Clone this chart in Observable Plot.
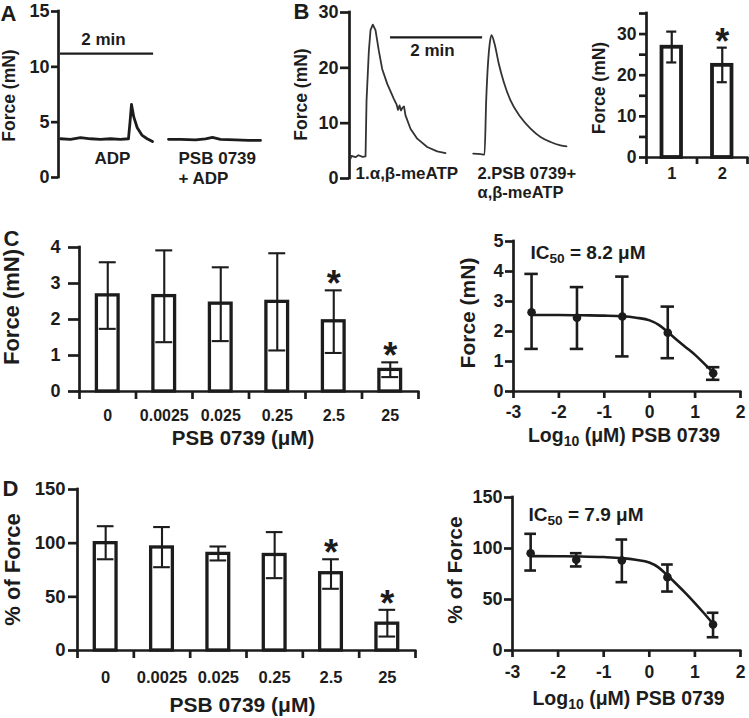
<!DOCTYPE html>
<html>
<head>
<meta charset="utf-8">
<script src="https://cdn.jsdelivr.net/npm/d3@7"></script>
<script src="https://cdn.jsdelivr.net/npm/@observablehq/plot@0.6"></script>
<style>
  html, body { margin: 0; padding: 0; background: #fff; }
  #fig { position: relative; width: 749px; height: 718px; overflow: hidden; background: #fff; }
  #fig > svg { position: absolute; left: 0; top: 0; }
</style>
</head>
<body>
<div id="fig"></div>
<script>
// ================= DATA =================
// A – force trace: ADP alone, then PSB 0739 + ADP (time s, force mN)
const aTime1  = [2.6, 15.5, 28.4, 41.3, 54.1, 67.0, 79.9, 90.2, 92.2, 94.1, 97.1, 101.5, 107.9, 114.3, 121.2];
const aForce1 = [3.50, 3.45, 3.60, 3.50, 3.45, 3.50, 3.45, 3.50, 5.00, 6.60, 5.45, 4.50, 3.80, 3.50, 3.25];
const aTime2  = [141.8, 157.3, 176.6, 189.5, 198.5, 208.8, 228.2, 244.9, 260.4];
const aForce2 = [3.45, 3.45, 3.40, 3.50, 3.62, 3.45, 3.40, 3.35, 3.35];
const aTicks  = [0, 5, 10, 15];

// B – α,β-meATP responses before / after PSB 0739 (time s, force mN)
const bTime1  = [1.3, 2.6, 7.8, 11.7, 17.0, 20.9, 22.2, 25.2, 27.4, 30.4, 33.9, 38.2, 42.6, 49.2, 57.8, 61.3, 63.2, 65.2, 67.1, 69.1, 71.1, 73.0, 79.5, 88.3, 101.3, 114.3, 125.2];
const bForce1 = [3.6, 4.1, 3.85, 4.2, 3.9, 4.0, 14.0, 23.0, 26.8, 27.8, 26.8, 23.1, 19.8, 17.1, 14.4, 13.4, 12.4, 13.2, 12.3, 12.8, 13.0, 11.4, 9.0, 7.2, 5.7, 4.9, 4.6];
const bTime2  = [161.3, 170.8, 176.0, 178.2, 180.8, 182.9, 185.1, 189.0, 194.7, 201.2, 209.9, 222.9, 236.0, 249.0, 262.1, 275.1, 282.9];
const bForce2 = [4.5, 4.4, 4.3, 14.1, 21.3, 24.5, 25.9, 24.4, 20.7, 17.4, 14.1, 11.1, 9.0, 7.5, 6.6, 6.0, 5.8];
const bTicks  = [0, 10, 20, 30];
const scaleBarSec = 120;

// B (right) – peak force bars
const bCats = ["1", "2"];
const bMean = [26.8, 22.4];
const bHi   = [30.6, 26.7];
const bLo   = [23.1, 18.3];
const bSig  = [false, true];
const bBarTicks = [0, 5, 10, 15, 20, 25, 30, 35];

// C / D – PSB 0739 concentration series
const concLabels = ["0", "0.0025", "0.025", "0.25", "2.5", "25"];
const concSig    = [false, false, false, false, true, true];
const cMean = [2.67, 2.65, 2.44, 2.49, 1.95, 0.60];
const cHi   = [3.59, 3.92, 3.45, 3.84, 2.81, 0.81];
const cLo   = [1.74, 1.37, 1.40, 1.14, 1.07, 0.40];
const cTicks = [0, 1, 2, 3, 4];
const dMean = [100, 96, 90, 89, 72, 25];
const dHi   = [115.8, 115.0, 96.9, 110.3, 85.0, 37.9];
const dLo   = [85.0, 77.6, 83.9, 67.4, 57.5, 13.0];
const dTicks = [0, 50, 100, 150];

// concentration–response (µM)
const curveConc  = [0.0025, 0.025, 0.25, 2.5, 25];
const cCurveMean = [2.64, 2.46, 2.50, 1.96, 0.61];
const cCurveHi   = [3.92, 3.48, 3.83, 2.83, 0.81];
const cCurveLo   = [1.42, 1.42, 1.17, 1.11, 0.39];
const dCurveMean = [95.4, 88.9, 88.2, 71.9, 25.5];
const dCurveHi   = [114.4, 95.4, 108.8, 84.3, 37.0];
const dCurveLo   = [78.4, 82.4, 67.0, 57.8, 13.0];
const logTicks    = [-3, -2, -1, 0, 1, 2];
const cCurveTicks = [0, 1, 2, 3, 4, 5];
// fitted curves
const fitLog    = [-2.6, -2.0, -1.5, -1.0, -0.6, -0.3, 0.0, 0.2, 0.4, 0.6, 0.8, 1.0, 1.2, 1.4];
const cFitForce = [2.55, 2.55, 2.54, 2.53, 2.51, 2.46, 2.37, 2.22, 1.98, 1.72, 1.47, 1.22, 0.93, 0.64];
const dFitPct   = [92.5, 92.4, 92.2, 91.6, 90.6, 89.0, 86.2, 81.5, 73.5, 65.0, 56.0, 46.5, 36.5, 26.0];

// label texts
const psbTitle = "PSB 0739 (μM)";
const logTitle = ["Log", "10", " (μM) PSB 0739"];
const ic50C = ["IC", "50", " = 8.2 μM"];
const ic50D = ["IC", "50", " = 7.9 μM"];

// ================= STYLE / LAYOUT =================
const FONT = "'Liberation Sans', Arial, Helvetica, sans-serif";
const INK = "#1c1c1c";
const W = 749, H = 718;
const AX = 2.7;
const STYLE = {background: "transparent", fontFamily: FONT, fontWeight: "bold", color: INK, overflow: "visible"};
const fig = document.getElementById("fig");

function dims(f) {
  return {width: W, height: H, marginLeft: f.l, marginRight: W - f.r, marginTop: f.t, marginBottom: H - f.b, style: STYLE};
}
function txt(f, s, X, Y, o = {}) {
  return Plot.text([s], {text: d => d, frameAnchor: "top-left", dx: X - f.l, dy: Y - f.t,
    textAnchor: "start", lineAnchor: "bottom", fill: INK, fontSize: 16.5, fontWeight: "bold", ...o});
}
function vtitle(f, s, X, Y, size) {
  return txt(f, s, X, Y, {rotate: -90, textAnchor: "middle", lineAnchor: "middle", fontSize: size, ariaLabel: "ytitle"});
}
const yLine = (x, y1, y2) => Plot.ruleX([x], {y1, y2, stroke: INK, strokeWidth: AX, strokeLinecap: "square"});
const xLine = (y, x1, x2) => Plot.ruleY([y], {x1, x2, stroke: INK, strokeWidth: AX, strokeLinecap: "square"});
const plain = d => String(d);

function mount(svg, titleLen, subs = []) {
  const s = d3.select(svg);
  if (titleLen) s.selectAll('[aria-label="ytitle"] text').attr("textLength", titleLen).attr("lengthAdjust", "spacingAndGlyphs");
  for (const parts of subs) {
    const full = parts.join("");
    s.selectAll("text").filter(function () { return this.textContent === full; }).each(function () {
      const t = d3.select(this);
      t.text(null);
      t.append("tspan").text(parts[0]);
      t.append("tspan").attr("font-size", "0.72em").attr("dy", 4.5).text(parts[1]);
      t.append("tspan").attr("dy", -4.5).text(parts[2]);
    });
  }
  fig.append(svg);
}

function barMarks(o) {
  const n = o.cats.length;
  const rows = o.cats.map((c, i) => ({c, i, m: o.mean[i], hi: o.hi[i], lo: o.lo[i], s: o.sig[i]}));
  const cx = d => d.i + 0.5;
  return [
    xLine(0, 0, n),
    yLine(0, o.y[0], o.y[1]),
    Plot.axisY({ticks: o.yTicks, tickFormat: o.yFmt, tickSize: o.ySize, tickPadding: o.yPad, fontSize: o.yFont, strokeWidth: AX, label: null}),
    Plot.axisX({ticks: d3.range(n + 1), tickFormat: () => "", tickSize: o.xSize, strokeWidth: AX, label: null}),
    Plot.rect(rows, {x1: d => cx(d) - o.hw, x2: d => cx(d) + o.hw, y1: 0, y2: "m", fill: "white", stroke: INK, strokeWidth: o.barW}),
    Plot.ruleX(rows, {x: cx, y1: "lo", y2: "hi", stroke: INK, strokeWidth: o.errW}),
    Plot.ruleY(rows, {y: "hi", x1: d => cx(d) - o.cap, x2: d => cx(d) + o.cap, stroke: INK, strokeWidth: o.errW}),
    Plot.ruleY(rows, {y: "lo", x1: d => cx(d) - o.cap, x2: d => cx(d) + o.cap, stroke: INK, strokeWidth: o.errW}),
    Plot.text(rows.filter(d => d.s), {x: cx, y: "hi", text: () => "*", fontSize: 36, lineAnchor: "bottom", dy: o.starDy, fill: INK, fontWeight: "bold"}),
    Plot.text(rows, {x: cx, text: "c", frameAnchor: "bottom", lineAnchor: "bottom", dy: o.catDy, fontSize: o.catFont, fill: INK, fontWeight: "bold"})
  ];
}

function curveMarks(o) {
  const rows = curveConc.map((c, i) => ({x: Math.log10(c), m: o.mean[i], hi: o.hi[i], lo: o.lo[i]}));
  const fit = fitLog.map((x, i) => ({x, y: o.fitY[i]}));
  return [
    xLine(o.y[0], logTicks[0], logTicks[logTicks.length - 1]),
    yLine(logTicks[0], o.y[0], o.y[1]),
    Plot.axisY({ticks: o.yTicks, tickFormat: plain, tickSize: 8, tickPadding: 2, fontSize: 18, strokeWidth: AX, label: null}),
    Plot.axisX({ticks: logTicks, tickFormat: plain, tickSize: 7, tickPadding: o.xPad, fontSize: 17.5, strokeWidth: AX, label: null}),
    Plot.line(fit, {x: "x", y: "y", curve: "monotone-x", stroke: INK, strokeWidth: 2.6}),
    Plot.ruleX(rows, {x: "x", y1: "lo", y2: "hi", stroke: INK, strokeWidth: 2.6}),
    Plot.ruleY(rows, {y: "hi", x1: d => d.x - o.cap, x2: d => d.x + o.cap, stroke: INK, strokeWidth: 2.6}),
    Plot.ruleY(rows, {y: "lo", x1: d => d.x - o.cap, x2: d => d.x + o.cap, stroke: INK, strokeWidth: 2.6}),
    Plot.dot(rows, {x: "x", y: "m", r: 4.3, fill: INK, stroke: null})
  ];
}

// ---------- A ----------
const fA = {l: 58, r: 262, t: 11, b: 177};
mount(Plot.plot({
  ...dims(fA),
  x: {domain: [0, 263], axis: null},
  y: {domain: [0, 15], axis: null},
  marks: [
    yLine(0, 0, 15),
    Plot.axisY({ticks: aTicks, tickSize: 7, tickPadding: 2, fontSize: 18, strokeWidth: AX, label: null}),
    Plot.line(aTime1.map((t, i) => ({t, v: aForce1[i]})), {x: "t", y: "v", stroke: INK, strokeWidth: 2.8, strokeLinejoin: "round"}),
    Plot.line(aTime2.map((t, i) => ({t, v: aForce2[i]})), {x: "t", y: "v", stroke: INK, strokeWidth: 2.8, strokeLinejoin: "round"}),
    Plot.ruleY([11.2], {x1: 2.6, x2: 2.6 + scaleBarSec, stroke: INK, strokeWidth: 2.3}),
    txt(fA, "A", 0, 20, {fontSize: 22}),
    vtitle(fA, "Force (mN)", 9, 95, 17.5),
    txt(fA, "2 min", 103, 44, {textAnchor: "middle", fontSize: 17}),
    txt(fA, "ADP", 112, 163, {textAnchor: "middle", fontSize: 17}),
    txt(fA, "PSB 0739", 178, 163, {fontSize: 17}),
    txt(fA, "+ ADP", 178, 183, {fontSize: 17})
  ]
}), 94);

// ---------- B traces ----------
const fB = {l: 349, r: 567, t: 12, b: 178};
mount(Plot.plot({
  ...dims(fB),
  x: {domain: [0, 284.2], axis: null},
  y: {domain: [0, 30], axis: null},
  marks: [
    yLine(0, 0, 30),
    Plot.axisY({ticks: bTicks, tickSize: 9, tickPadding: 2, fontSize: 18, strokeWidth: AX, label: null}),
    Plot.line(bTime1.map((t, i) => ({t, v: bForce1[i]})), {x: "t", y: "v", stroke: "#333", strokeWidth: 1.8, strokeLinejoin: "round"}),
    Plot.line(bTime2.map((t, i) => ({t, v: bForce2[i]})), {x: "t", y: "v", stroke: "#333", strokeWidth: 1.8, strokeLinejoin: "round", curve: "monotone-x"}),
    Plot.ruleY([25.5], {x1: 53.5, x2: 53.5 + scaleBarSec, stroke: INK, strokeWidth: 2.3}),
    txt(fB, "B", 293, 18.5, {fontSize: 22}),
    vtitle(fB, "Force (mN)", 301, 94, 17.5),
    txt(fB, "2 min", 432, 55, {textAnchor: "middle", fontSize: 17}),
    txt(fB, "1.α,β-meATP", 355, 178, {fontSize: 17}),
    txt(fB, "2.PSB 0739+", 477, 178, {fontSize: 16.5}),
    txt(fB, "α,β-meATP", 477, 197, {fontSize: 16.5})
  ]
}), 98);

// ---------- B bars ----------
const fBb = {l: 646, r: 747, t: 13, b: 157};
mount(Plot.plot({
  ...dims(fBb),
  x: {domain: [0, bCats.length], axis: null},
  y: {domain: [0, 35], axis: null},
  marks: [
    ...barMarks({cats: bCats, mean: bMean, hi: bHi, lo: bLo, sig: bSig, y: [0, 35], yTicks: bBarTicks,
      yFmt: d => (d % 10 === 0 ? String(d) : ""), ySize: 7, yPad: 3, yFont: 17.5, xSize: 7,
      catDy: 21, catFont: 16.5, hw: 0.193, cap: 0.1, barW: 3.8, errW: 2.2, starDy: 6}),
    vtitle(fBb, "Force (mN)", 598.5, 87.5, 17.5)
  ]
}), 98);

// ---------- C bars ----------
const fC = {l: 79, r: 418, t: 247, b: 391};
mount(Plot.plot({
  ...dims(fC),
  x: {domain: [0, concLabels.length], axis: null},
  y: {domain: [0, 4], axis: null},
  marks: [
    ...barMarks({cats: concLabels, mean: cMean, hi: cHi, lo: cLo, sig: concSig, y: [0, 4], yTicks: cTicks,
      yFmt: plain, ySize: 11, yPad: 8, yFont: 18, xSize: 8,
      catDy: 29.5, catFont: 16, hw: 0.192, cap: 0.15, barW: 3.3, errW: 2.1, starDy: 6}),
    txt(fC, "C", 3, 245, {fontSize: 22}),
    vtitle(fC, "Force (mN)", 11, 306.5, 22),
    txt(fC, psbTitle, 242.5, 444, {textAnchor: "middle", fontSize: 20.5})
  ]
}), 147);

// ---------- C curve ----------
const fCc = {l: 513, r: 740, t: 241, b: 391};
mount(Plot.plot({
  ...dims(fCc),
  x: {domain: [logTicks[0], logTicks[logTicks.length - 1]], axis: null},
  y: {domain: [0, 5], axis: null},
  marks: [
    ...curveMarks({mean: cCurveMean, hi: cCurveHi, lo: cCurveLo, fitY: cFitForce, y: [0, 5], yTicks: cCurveTicks, xPad: 7, cap: 0.148}),
    vtitle(fCc, "Force (mN)", 468, 312.5, 21),
    txt(fCc, logTitle.join(""), 623.5, 441, {textAnchor: "middle", fontSize: 19.5}),
    txt(fCc, ic50C.join(""), 530, 258, {fontSize: 19})
  ]
}), 122, [logTitle, ic50C]);

// ---------- D bars ----------
const fD = {l: 77, r: 415, t: 489, b: 650};
mount(Plot.plot({
  ...dims(fD),
  x: {domain: [0, concLabels.length], axis: null},
  y: {domain: [0, 150], axis: null},
  marks: [
    ...barMarks({cats: concLabels, mean: dMean, hi: dHi, lo: dLo, sig: concSig, y: [0, 150], yTicks: dTicks,
      yFmt: plain, ySize: 9, yPad: 3, yFont: 18.5, xSize: 8,
      catDy: 32, catFont: 16.5, hw: 0.193, cap: 0.148, barW: 3.3, errW: 2.1, starDy: 6}),
    txt(fD, "D", 2, 495, {fontSize: 22}),
    vtitle(fD, "% of Force", 12.5, 569, 22),
    txt(fD, psbTitle, 242, 711, {textAnchor: "middle", fontSize: 21})
  ]
}), 122);

// ---------- D curve ----------
const fDc = {l: 512, r: 740, t: 497, b: 650};
mount(Plot.plot({
  ...dims(fDc),
  x: {domain: [logTicks[0], logTicks[logTicks.length - 1]], axis: null},
  y: {domain: [0, 150], axis: null},
  marks: [
    ...curveMarks({mean: dCurveMean, hi: dCurveHi, lo: dCurveLo, fitY: dFitPct, y: [0, 150], yTicks: dTicks, xPad: 8, cap: 0.128}),
    vtitle(fDc, "% of Force", 455, 569.5, 21),
    txt(fDc, logTitle.join(""), 628, 704, {textAnchor: "middle", fontSize: 19.5}),
    txt(fDc, ic50D.join(""), 528, 520, {fontSize: 19})
  ]
}), 115, [logTitle, ic50D]);
</script>
</body>
</html>
